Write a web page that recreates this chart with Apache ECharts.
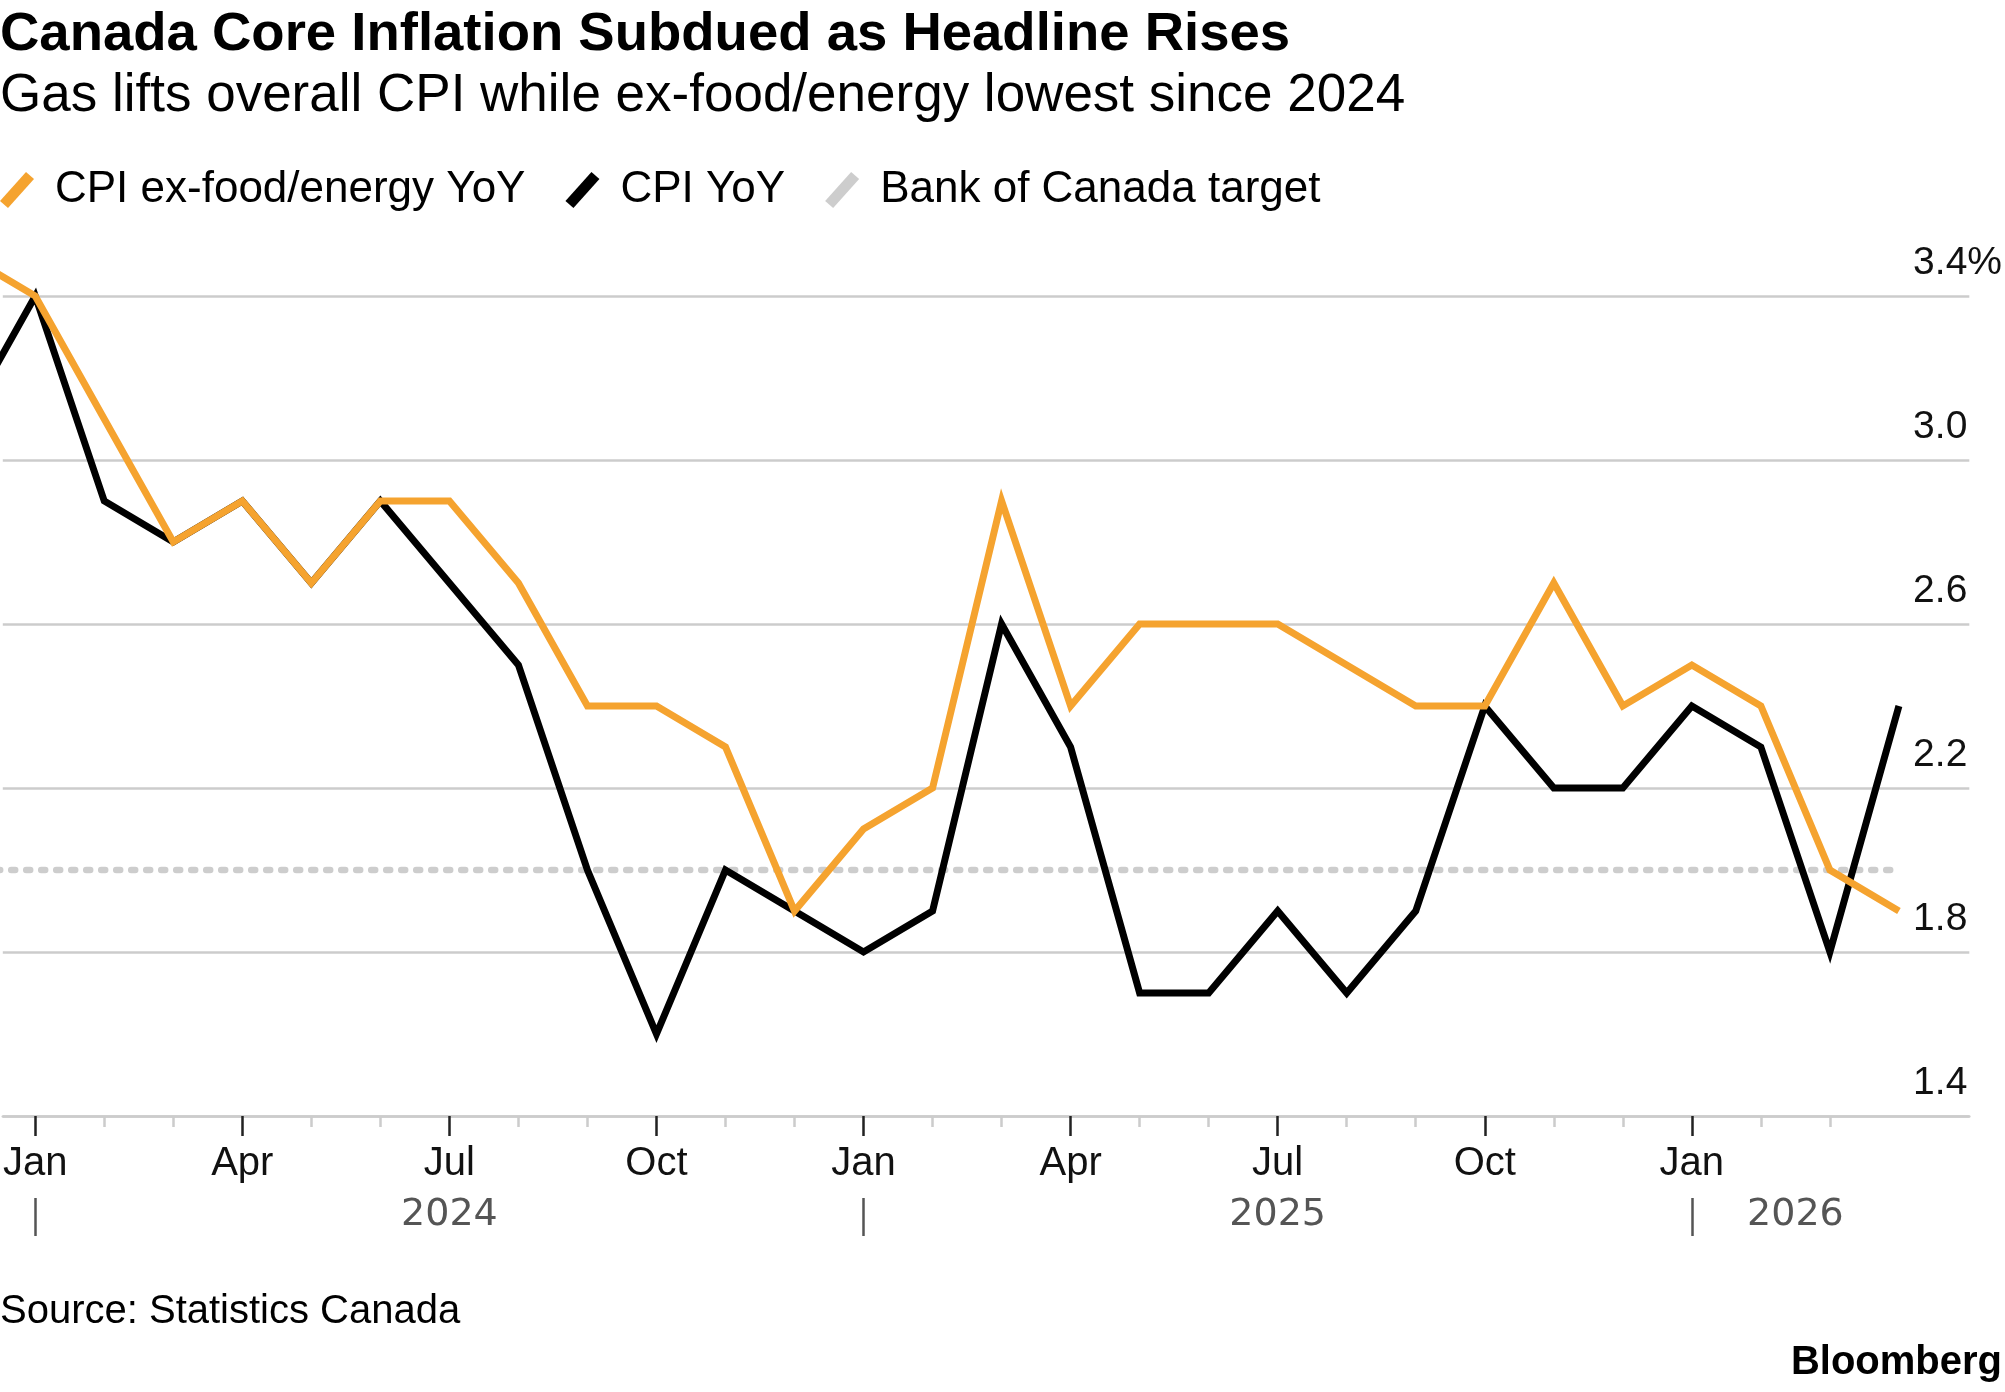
<!DOCTYPE html>
<html><head><meta charset="utf-8">
<script src="https://cdn.jsdelivr.net/npm/echarts@6/dist/echarts.min.js"></script>
<style>html,body{margin:0;padding:0;background:#fff}#c{width:2005px;height:1392px}</style>
</head><body><div id="c"></div><script>
// ---- data ----
const months = ['2023-12',
  '2024-01','2024-02','2024-03','2024-04','2024-05','2024-06','2024-07','2024-08','2024-09','2024-10','2024-11','2024-12',
  '2025-01','2025-02','2025-03','2025-04','2025-05','2025-06','2025-07','2025-08','2025-09','2025-10','2025-11','2025-12',
  '2026-01','2026-02','2026-03','2026-04'];
const coreCPI = [3.5,
  3.4,3.1,2.8,2.9,2.7,2.9,2.9,2.7,2.4,2.4,2.3,1.9,
  2.1,2.2,2.9,2.4,2.6,2.6,2.6,2.5,2.4,2.4,2.7,2.4,
  2.5,2.4,2.0,1.9];
const headlineCPI = [3.1,
  3.4,2.9,2.8,2.9,2.7,2.9,2.7,2.5,2.0,1.6,2.0,1.9,
  1.8,1.9,2.6,2.3,1.7,1.7,1.9,1.7,1.9,2.4,2.2,2.2,
  2.4,2.3,1.8,2.4];
const targetRate = [2.0,
  2.0,2.0,2.0,2.0,2.0,2.0,2.0,2.0,2.0,2.0,2.0,2.0,
  2.0,2.0,2.0,2.0,2.0,2.0,2.0,2.0,2.0,2.0,2.0,2.0,
  2.0,2.0,2.0,2.0];
const quarterMonths = ['2024-01','2024-04','2024-07','2024-10','2025-01','2025-04','2025-07','2025-10','2026-01'];
const quarterLabels = ['Jan','Apr','Jul','Oct','Jan','Apr','Jul','Oct','Jan'];
const yearLabels = ['2024','2025','2026'];
const yTickValues = [1.4,1.8,2.2,2.6,3.0,3.4];

const SERIES_CORE = 'CPI ex-food/energy YoY';
const SERIES_CPI = 'CPI YoY';
const SERIES_TARGET = 'Bank of Canada target';

// ---- helpers ----
const base = months.indexOf('2024-01');
const xOf = m => months.indexOf(m) - base;
const pairs = arr => arr.map((v, i) => [i - base, v]);
const quarterX = quarterMonths.map(xOf);
const minorX = months.slice(1, -1).map(xOf).filter(x => quarterX.indexOf(x) < 0);
const yearStartX = yearLabels.map(y => xOf(y + '-01'));
const lastX = months.length - 1 - base;
const yearMidX = yearStartX.map((s, i) => (s + (i + 1 < yearStartX.length ? yearStartX[i + 1] : lastX)) / 2);

const FONT = 'Liberation Sans, Arial, sans-serif';
const X_MIN = -0.47, X_MAX = 28.02;
const ORANGE = '#f5a32f', BLACK = '#000000', TARGET_GREY = '#cdcdcd';

const chart = echarts.init(document.getElementById('c'), null, {renderer: 'canvas'});
chart.setOption({
  backgroundColor: '#ffffff',
  animation: false,
  title: [
    {text: 'Canada Core Inflation Subdued as Headline Rises', left: 0, top: 7, padding: 0,
      textStyle: {fontFamily: FONT, fontSize: 54.5, fontWeight: 'bold', color: '#000'}},
    {text: 'Gas lifts overall CPI while ex-food/energy lowest since 2024', left: 0, top: 70, padding: 0,
      textStyle: {fontFamily: FONT, fontSize: 53, fontWeight: 'normal', color: '#000'}},
    {text: 'Source: Statistics Canada', left: 0, top: 1292, padding: 0,
      textStyle: {fontFamily: FONT, fontSize: 40, fontWeight: 'normal', color: '#000'}},
    {text: 'Bloomberg', right: 3, top: 1343, padding: 0,
      textStyle: {fontFamily: FONT, fontSize: 40, fontWeight: 'bold', color: '#000'}}
  ],
  legend: {
    left: 0, top: 168, padding: 0,
    itemWidth: 34, itemHeight: 36, itemGap: 40,
    selectedMode: false,
    icon: 'path://M0,29 L26,0 L34,7 L8,36 Z',
    itemStyle: {borderWidth: 0},
    textStyle: {fontFamily: FONT, fontSize: 44, color: '#000', padding: [0, 0, 0, 16]},
    data: [
      {name: SERIES_CORE, itemStyle: {color: ORANGE}},
      {name: SERIES_CPI, itemStyle: {color: BLACK}},
      {name: SERIES_TARGET, itemStyle: {color: TARGET_GREY}}
    ]
  },
  grid: {left: 0, right: 35, top: 296, bottom: 276, containLabel: false},
  xAxis: [
    {
      type: 'value', min: X_MIN, max: X_MAX, position: 'bottom',
      splitLine: {show: false},
      axisLine: {show: true, lineStyle: {color: '#cccccc', width: 2.5}},
      axisTick: {show: true, customValues: quarterX, length: 20, lineStyle: {color: '#222', width: 2.5}},
      axisLabel: {show: true, customValues: quarterX, margin: 48, verticalAlign: 'middle',
        fontFamily: FONT, fontSize: 40, color: '#111',
        formatter: v => quarterLabels[quarterX.indexOf(Math.round(v))] || ''}
    },
    {
      type: 'value', min: X_MIN, max: X_MAX, position: 'bottom',
      splitLine: {show: false},
      axisLine: {show: false},
      axisTick: {show: true, customValues: minorX, length: 11, lineStyle: {color: '#cccccc', width: 2.5}},
      axisLabel: {show: false}
    },
    {
      type: 'value', min: X_MIN, max: X_MAX, position: 'bottom', offset: 82,
      splitLine: {show: false},
      axisLine: {show: false},
      axisTick: {show: true, customValues: yearStartX, length: 38, lineStyle: {color: '#555', width: 2.5}},
      axisLabel: {show: true, customValues: yearMidX, margin: 17, verticalAlign: 'middle',
        fontFamily: 'DejaVu Sans, sans-serif', fontSize: 38, color: '#555',
        formatter: v => {
          const i = yearMidX.findIndex(m => Math.abs(m - v) < 1e-6);
          return i >= 0 ? yearLabels[i] : '';
        }}
    }
  ],
  yAxis: [
    {
      type: 'value', min: yTickValues[0], max: yTickValues[yTickValues.length - 1], interval: 0.4,
      position: 'right',
      axisLine: {show: false}, axisTick: {show: false},
      splitLine: {show: true, lineStyle: {color: '#cccccc', width: 2.5}},
      axisLabel: {show: true, inside: true, margin: 2, verticalAlign: 'bottom', lineHeight: 66,
        fontFamily: FONT, fontSize: 39, color: '#111',
        formatter: v => v.toFixed(1)}
    },
    {
      type: 'value', min: yTickValues[0], max: yTickValues[yTickValues.length - 1], interval: 0.4,
      position: 'right',
      axisLine: {show: false}, axisTick: {show: false},
      splitLine: {show: false},
      axisLabel: {show: true, inside: false, margin: -2, align: 'left', verticalAlign: 'bottom', lineHeight: 66,
        fontFamily: FONT, fontSize: 39, color: '#111',
        formatter: v => Math.abs(v - yTickValues[yTickValues.length - 1]) < 1e-6 ? '%' : ''}
    }
  ],
  series: [
    {
      name: SERIES_TARGET, type: 'line', data: pairs(targetRate), clip: false,
      symbol: 'none', silent: true,
      itemStyle: {color: TARGET_GREY},
      lineStyle: {color: TARGET_GREY, width: 6.5, type: [4, 11], cap: 'round'}
    },
    {
      name: SERIES_CPI, type: 'line', data: pairs(headlineCPI), clip: false,
      symbol: 'none', silent: true,
      itemStyle: {color: BLACK},
      lineStyle: {color: BLACK, width: 7, join: 'miter'}
    },
    {
      name: SERIES_CORE, type: 'line', data: pairs(coreCPI), clip: false,
      symbol: 'none', silent: true,
      itemStyle: {color: ORANGE},
      lineStyle: {color: ORANGE, width: 7, join: 'miter'}
    }
  ]
});
</script></body></html>
